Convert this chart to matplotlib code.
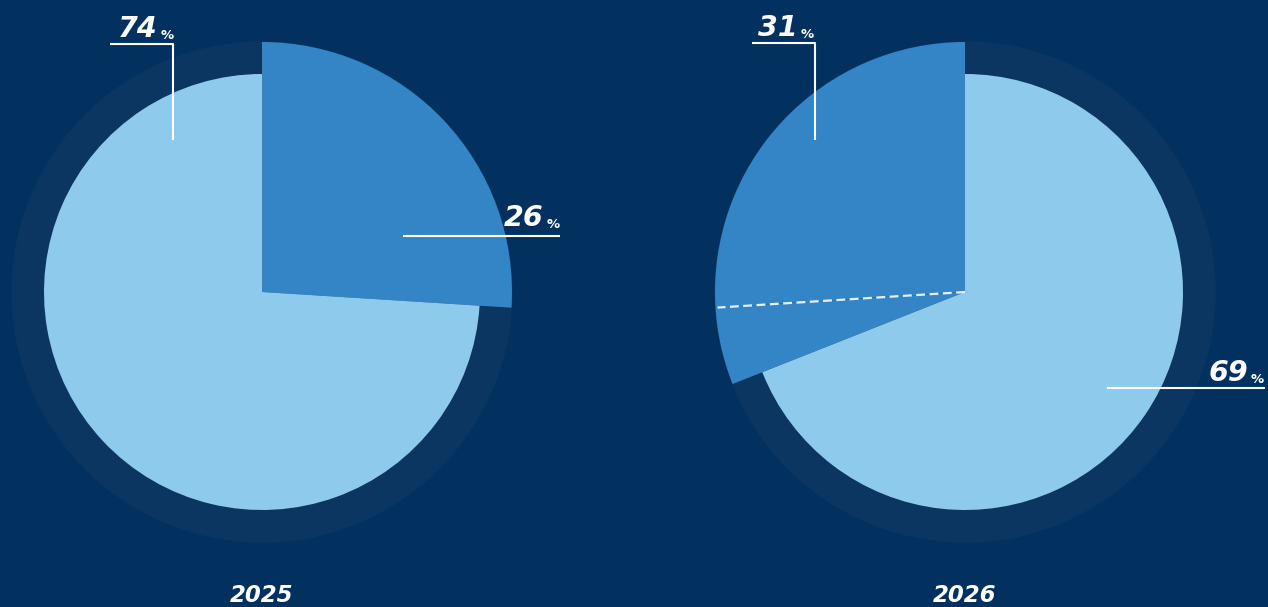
import numpy as np
import matplotlib.pyplot as plt
from matplotlib.patches import Circle

# share of the two groups per year (dark blue = first group)
years = ['2025', '2026']
dark_2025 = [26]
light_2025 = 74
dark_2026 = [26, 5]          # split shown with a dashed divider
light_2026 = 69

BG = '#02315f'
RING = '#0a3661'
LIGHT = '#8ecaeb'
DARK = '#3385c5'
R_OUT, R_IN = 250, 218
FONT = 'DejaVu Sans'

fig = plt.figure(figsize=(12.68, 6.07), dpi=100, facecolor=BG)
ax = fig.add_axes([0, 0, 1, 1])
ax.set_facecolor(BG)


def draw_pie(cx, cy, dark, light, counterclock):
    ax.add_patch(Circle((cx, cy), R_OUT, color=RING, zorder=1))
    wedges, _ = ax.pie(dark + [light], center=(cx, cy), radius=R_OUT,
                       startangle=90, counterclock=counterclock,
                       colors=[DARK] * len(dark) + [LIGHT],
                       wedgeprops=dict(linewidth=0), frame=True)
    wedges[-1].set_radius(R_IN)
    for w in wedges:
        w.set_zorder(2)
    return wedges


def pct_label(x, y, value):
    ax.text(x, y, str(value), color='white', fontsize=20.5, fontweight='bold',
            fontstyle='italic', family=FONT, ha='right', va='baseline', zorder=5)
    ax.text(x + 3, y - 2, '%', color='white', fontsize=9.5, fontweight='bold',
            family=FONT, ha='left', va='baseline', zorder=5)


line_kw = dict(color='white', lw=1.5, zorder=4, solid_capstyle='butt')

# 2025
cx1, cy1 = 262, 315
draw_pie(cx1, cy1, dark_2025, light_2025, counterclock=False)
ax.plot([110, 173, 173], [563, 563, 467], **line_kw)
pct_label(158, 570, light_2025)
ax.plot([403, 560], [371, 371], **line_kw)
pct_label(544, 381, sum(dark_2025))

# 2026
cx2, cy2 = 965, 315
wedges = draw_pie(cx2, cy2, dark_2026, light_2026, counterclock=True)
ang = np.radians(wedges[0].theta2)
ax.plot([cx2, cx2 + (R_OUT - 2) * np.cos(ang)], [cy2, cy2 + (R_OUT - 2) * np.sin(ang)],
        color='#e6eef5', lw=1.6, ls=(0, (4, 2)), zorder=4)
ax.plot([752, 815, 815], [564, 564, 467], **line_kw)
pct_label(798, 571, sum(dark_2026))
ax.plot([1107, 1265], [219, 219], **line_kw)
pct_label(1248, 226, light_2026)

# year captions
for cx, year in zip([cx1, cx2], years):
    ax.text(cx, 5, year, color='white', fontsize=16.5, fontweight='bold',
            fontstyle='italic', family=FONT, ha='center', va='baseline')

ax.set_xlim(0, 1268)
ax.set_ylim(0, 607)
ax.set_aspect('equal')
ax.axis('off')
fig.savefig('out.png', dpi=100, facecolor=BG)
